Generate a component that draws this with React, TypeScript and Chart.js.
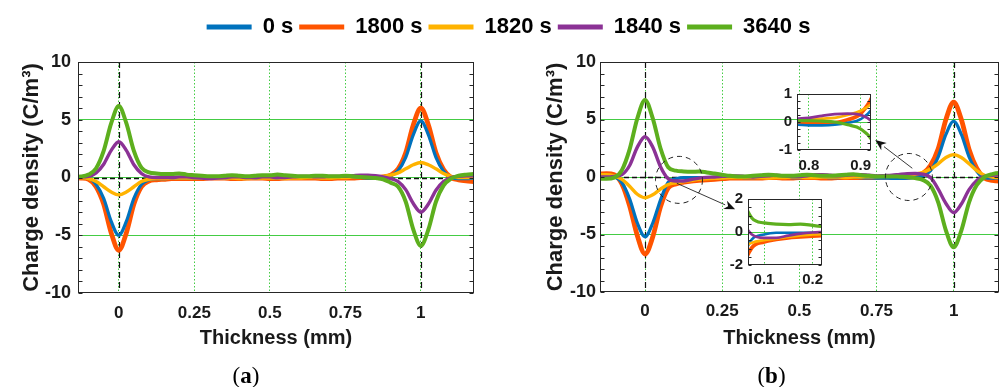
import React, { useEffect, useRef } from 'react';
import { Chart, registerables } from 'chart.js';

Chart.register(...registerables);

const FONT = "'Liberation Sans', Arial, Helvetica, sans-serif";
const SERIF = "'Liberation Serif', 'Times New Roman', serif";
const GRID_GREEN = '#44cc44';
const AXIS_COLOR = '#262626';
const TEXT_COLOR = '#1a1a1a';

// ---------- data ----------
const seriesLabels = ['0 s', '1800 s', '1820 s', '1840 s', '3640 s'];
const seriesColors = ['#0072BD', '#FF5400', '#FFB300', '#8B3295', '#5DAF1E'];
const seriesWidths = [3.2, 4.8, 3.4, 3.4, 4.0];
const seriesOrder = [3, 4, 2, 1, 0];

const thickness = [
  -0.15, -0.125, -0.1, -0.075, -0.05, -0.025, 0, 0.025, 0.05, 0.075, 0.1, 0.125, 0.15, 0.175,
  0.2, 0.225, 0.25, 0.275, 0.3, 0.325, 0.35, 0.375, 0.4, 0.425, 0.45, 0.475, 0.5, 0.525, 0.55,
  0.575, 0.6, 0.625, 0.65, 0.675, 0.7, 0.725, 0.75, 0.775, 0.8, 0.825, 0.85, 0.875, 0.9, 0.925,
  0.95, 0.975, 1, 1.025, 1.05, 1.075, 1.1, 1.125, 1.15, 1.175,
];

// panel (a)
const blueA = [
  0, 0, -0.05, -0.6, -1.8, -3.8, -5.0, -3.8, -1.8, -0.6, -0.2, -0.1, -0.1,
  -0.05, -0.05, -0.05, -0.05, -0.05, -0.05, -0.05,
  -0.05, 0, 0, -0.05, -0.05, 0, 0, -0.05, -0.05, 0,
  0, 0, 0.05, 0.05, 0, 0, 0.05, 0.05, 0, -0.05, -0.05,
  0, 0.15, 0.6, 1.75, 3.7, 4.9, 3.7, 1.75, 0.55, 0, -0.1, -0.1, -0.05,
];
const orangeA = [
  0, -0.05, -0.15, -0.8, -2.3, -4.8, -6.3, -4.8, -2.3, -0.8, -0.3, -0.2, -0.15,
  -0.1, -0.1, -0.1, -0.1, -0.1, -0.05, -0.05,
  -0.05, -0.1, -0.1, -0.05, -0.05, -0.05, -0.1, -0.1, -0.05, -0.05,
  -0.05, -0.05, -0.05, -0.1, -0.1, -0.05, -0.05, -0.05, 0, 0, 0,
  0.05, 0.2, 0.75, 2.15, 4.55, 6.0, 4.55, 2.15, 0.7, 0, -0.2, -0.3, -0.35,
];
const yellowA = [
  0, 0, -0.1, -0.35, -0.8, -1.25, -1.5, -1.25, -0.8, -0.35, -0.15, -0.1, -0.1,
  -0.05, -0.05, -0.05, -0.05, -0.05, -0.05, -0.05,
  -0.05, -0.05, -0.1, -0.1, -0.05, -0.05, -0.05, -0.05, -0.1, -0.05,
  -0.05, 0, 0, -0.05, -0.05, 0, 0, 0.05, 0.05, 0.05, 0.05,
  0.1, 0.2, 0.4, 0.75, 1.1, 1.3, 1.1, 0.75, 0.35, 0.1, 0, 0, 0,
];
const purpleA = [
  0.05, 0.05, 0.1, 0.4, 1.15, 2.35, 3.1, 2.35, 1.1, 0.35, 0.05, 0, 0,
  0, 0.05, 0.05, 0, -0.05, -0.1, -0.05,
  0, 0.05, 0.05, 0, 0, 0.05, 0.05, 0, 0, 0.05,
  0.1, 0.1, 0.05, 0.05, 0.1, 0.1, 0.1, 0.15, 0.2, 0.2, 0.15,
  0.05, -0.1, -0.35, -1.05, -2.25, -3.0, -2.3, -1.1, -0.35, 0, 0.1, 0.15, 0.15,
];
const greenA = [
  0.05, 0.08, 0.25, 0.8, 2.3, 4.7, 6.2, 4.7, 2.3, 0.85, 0.45, 0.35, 0.3,
  0.3, 0.35, 0.25, 0.2, 0.15, 0.1, 0.1,
  0.15, 0.2, 0.15, 0.1, 0.15, 0.2, 0.2, 0.25, 0.2, 0.15,
  0.1, 0.1, 0.15, 0.15, 0.1, 0.1, 0.15, 0.1, 0.05, 0, -0.05,
  -0.15, -0.45, -0.8, -2.1, -4.5, -5.9, -4.5, -2.1, -0.7, -0.1, 0.15, 0.25, 0.3,
];

// panel (b)
const blueB = [
  0.05, 0.05, 0, -0.5, -1.9, -4.0, -5.2, -4.0, -2.0, -0.45, -0.15, -0.05, -0.05,
  -0.05, -0.05, -0.05, -0.05, 0, 0, -0.05,
  -0.05, 0, 0, 0.05, 0, -0.05, -0.05, 0, 0, 0,
  -0.05, -0.05, 0, 0, -0.05, -0.08, -0.1, -0.1, -0.12, -0.12, -0.1,
  -0.03, 0.1, 0.55, 1.75, 3.7, 4.85, 3.7, 1.75, 0.5, -0.05, -0.1, -0.1, -0.1,
];
const orangeB = [
  0.25, 0.3, 0.2, -0.6, -2.5, -5.1, -6.7, -5.2, -2.6, -0.95, -0.6, -0.45, -0.35,
  -0.3, -0.25, -0.2, -0.15, -0.1, -0.1, -0.1,
  -0.1, -0.1, -0.05, -0.05, -0.1, -0.1, -0.05, -0.05, -0.05, -0.1,
  -0.1, -0.05, -0.05, -0.05, -0.05, -0.05, -0.05, -0.02, -0.05, -0.05, -0.03,
  0.08, 0.3, 1.0, 2.45, 5.0, 6.5, 5.0, 2.4, 0.75, -0.1, -0.3, -0.35, -0.35,
];
const yellowB = [
  0.2, 0.2, 0.1, -0.2, -0.8, -1.5, -1.8, -1.55, -1.05, -0.65, -0.5, -0.4, -0.3,
  -0.2, -0.15, -0.12, -0.1, -0.05, -0.05, -0.05,
  -0.05, -0.05, -0.1, -0.05, -0.05, 0, 0, -0.05, -0.05, 0,
  0, 0, -0.05, 0, 0, 0.02, 0.03, 0.05, 0.08, 0.12, 0.15,
  0.25, 0.4, 0.7, 1.15, 1.7, 1.95, 1.7, 1.15, 0.55, 0.15, 0, -0.05, -0.05,
];
const purpleB = [
  0, 0, 0.05, 0.2, 1.0, 2.6, 3.5, 2.6, 0.9, -0.15, -0.35, -0.35, -0.22,
  -0.1, -0.03, 0, 0.05, 0.1, 0.1, 0.05,
  0, 0.05, 0.1, 0.15, 0.1, 0.05, 0.05, 0.1, 0.2, 0.2,
  0.15, 0.1, 0.15, 0.2, 0.2, 0.15, 0.1, 0.12, 0.15, 0.22, 0.28,
  0.3, 0.25, -0.05, -1.05, -2.3, -3.1, -2.35, -1.1, -0.3, 0.05, 0.15, 0.2, 0.2,
];
const greenB = [
  -0.15, -0.15, -0.05, 0.6, 2.4, 5.1, 6.7, 5.1, 2.5, 0.85, 0.55, 0.48, 0.45,
  0.48, 0.4, 0.3, 0.2, 0.1, 0.05, 0.05,
  0.1, 0.15, 0.2, 0.15, 0.1, 0.1, 0.15, 0.2, 0.15, 0.1,
  0.1, 0.15, 0.2, 0.25, 0.15, 0.1, 0.05, 0.05, 0.05, 0.03, 0,
  -0.1, -0.25, -0.75, -2.2, -4.65, -6.1, -4.65, -2.2, -0.7, 0, 0.25, 0.35, 0.35,
];

const seriesA = [blueA, orangeA, yellowA, purpleA, greenA];
const seriesB = [blueB, orangeB, yellowB, purpleB, greenB];

// ticks
const xTicksMain = [0, 0.25, 0.5, 0.75, 1];
const xTickLabelsMain = ['0', '0.25', '0.5', '0.75', '1'];
const yTicksMain = [-10, -5, 0, 5, 10];
const yTickLabelsMain = ['-10', '-5', '0', '5', '10'];
const inset1XTicks = [0.8, 0.9];
const inset1XLabels = ['0.8', '0.9'];
const inset1YTicks = [-1, 0, 1];
const inset1YLabels = ['-1', '0', '1'];
const inset2XTicks = [0.1, 0.2];
const inset2XLabels = ['0.1', '0.2'];
const inset2YTicks = [-2, 0, 2];
const inset2YLabels = ['-2', '0', '2'];

// reference lines and zoom marks (data units)
const refLinesX = [0, 1];
const refLinesY = [0];
const zoomCircles = [[0.11, -0.25], [0.855, 0]];
const zoomArrows = [[0.103, -0.55, 0.292, -2.81], [0.866, 0.76, 0.746, 3.22]];

// ---------- helpers ----------
function makeDatasets(series: number[][], widthScale: number) {
  return seriesLabels.map((label, i) => ({
    label,
    data: thickness.map((x, j) => ({ x, y: series[i][j] })),
    borderColor: seriesColors[i],
    backgroundColor: seriesColors[i],
    borderWidth: seriesWidths[i] * widthScale,
    pointRadius: 0,
    cubicInterpolationMode: 'monotone',
    fill: false,
    order: seriesOrder[i],
    clip: 0,
    borderCapStyle: 'round',
    borderJoinStyle: 'round',
  }));
}

type DecorCfg = {
  minorStep: number;
  tickLen: number;
  whiteBg?: boolean;
  refX?: number[];
  refY?: number[];
  label?: string;
  labelDx?: number;
  labelY?: number;
  circles?: number[][];
  arrows?: number[][];
};

function decorPlugin(cfg: DecorCfg) {
  return {
    id: 'decor',
    beforeDraw(chart: any) {
      if (!cfg.whiteBg) return;
      const { ctx, chartArea: a } = chart;
      ctx.save();
      ctx.fillStyle = '#ffffff';
      ctx.fillRect(a.left, a.top, a.right - a.left, a.bottom - a.top);
      ctx.restore();
    },
    beforeDatasetsDraw(chart: any) {
      const { ctx, chartArea: a, scales } = chart;
      ctx.save();
      ctx.strokeStyle = '#111';
      (cfg.refX || []).forEach((v) => {
        const px = Math.round(scales.x.getPixelForValue(v)) + 0.5;
        ctx.lineWidth = 1.2;
        ctx.setLineDash([6, 4]);
        ctx.beginPath();
        ctx.moveTo(px, a.top);
        ctx.lineTo(px, a.bottom);
        ctx.stroke();
      });
      (cfg.refY || []).forEach((v) => {
        const py = Math.round(scales.y.getPixelForValue(v)) + 0.5;
        ctx.lineWidth = 1.4;
        ctx.setLineDash([5, 3]);
        ctx.beginPath();
        ctx.moveTo(a.left, py);
        ctx.lineTo(a.right, py);
        ctx.stroke();
      });
      ctx.restore();
    },
    afterDatasetsDraw(chart: any) {
      const { ctx, chartArea: a, scales } = chart;
      const ys = scales.y;
      ctx.save();
      ctx.strokeStyle = AXIS_COLOR;
      ctx.lineWidth = 1;
      ctx.setLineDash([]);
      const l = Math.round(a.left) + 0.5;
      const r = Math.round(a.right) - 0.5;
      const t = Math.round(a.top) + 0.5;
      const b = Math.round(a.bottom) - 0.5;
      ctx.strokeRect(l, t, r - l, b - t);
      const n = Math.round((ys.max - ys.min) / cfg.minorStep);
      ctx.beginPath();
      for (let k = 0; k <= n; k++) {
        const py = Math.round(ys.getPixelForValue(ys.min + k * cfg.minorStep)) + 0.5;
        ctx.moveTo(l, py);
        ctx.lineTo(l + cfg.tickLen, py);
        ctx.moveTo(r, py);
        ctx.lineTo(r - cfg.tickLen, py);
      }
      ctx.stroke();
      ctx.restore();
    },
    afterDraw(chart: any) {
      const { ctx, chartArea: a, scales } = chart;
      ctx.save();
      if (cfg.circles || cfg.arrows) {
        ctx.strokeStyle = '#222';
        ctx.fillStyle = '#111';
        ctx.lineWidth = 1;
        ctx.setLineDash([5, 4]);
        (cfg.circles || []).forEach(([cx, cy]) => {
          const px = scales.x.getPixelForValue(cx);
          const py = scales.y.getPixelForValue(cy);
          ctx.beginPath();
          ctx.arc(px, py, 23.5, 0, Math.PI * 2);
          ctx.stroke();
        });
        ctx.setLineDash([]);
        (cfg.arrows || []).forEach(([x1, y1, x2, y2]) => {
          const p1x = scales.x.getPixelForValue(x1);
          const p1y = scales.y.getPixelForValue(y1);
          const p2x = scales.x.getPixelForValue(x2);
          const p2y = scales.y.getPixelForValue(y2);
          const ang = Math.atan2(p2y - p1y, p2x - p1x);
          const len = 11;
          const hw = 4.5;
          const bx = p2x - len * Math.cos(ang);
          const by = p2y - len * Math.sin(ang);
          ctx.lineWidth = 0.9;
          ctx.beginPath();
          ctx.moveTo(p1x, p1y);
          ctx.lineTo(bx, by);
          ctx.stroke();
          ctx.beginPath();
          ctx.moveTo(p2x, p2y);
          ctx.lineTo(bx - hw * Math.sin(ang), by + hw * Math.cos(ang));
          ctx.lineTo(p2x - 0.7 * len * Math.cos(ang), p2y - 0.7 * len * Math.sin(ang));
          ctx.lineTo(bx + hw * Math.sin(ang), by - hw * Math.cos(ang));
          ctx.closePath();
          ctx.fill();
        });
      }
      if (cfg.label) {
        const parts = [
          { t: '(', w: 'normal' },
          { t: cfg.label, w: 'bold' },
          { t: ')', w: 'normal' },
        ];
        const size = 23;
        let total = 0;
        const widths = parts.map((p) => {
          ctx.font = `${p.w} ${size}px ${SERIF}`;
          const w = ctx.measureText(p.t).width;
          total += w;
          return w;
        });
        let x = (a.left + a.right) / 2 + (cfg.labelDx || 0) - total / 2;
        ctx.fillStyle = '#000';
        ctx.textBaseline = 'middle';
        ctx.textAlign = 'left';
        parts.forEach((p, i) => {
          ctx.font = `${p.w} ${size}px ${SERIF}`;
          ctx.fillText(p.t, x, cfg.labelY || 0);
          x += widths[i];
        });
      }
      ctx.restore();
    },
  };
}

type AxisCfg = {
  xMin: number;
  xMax: number;
  xTicks: number[];
  xLabels: string[];
  yMin: number;
  yMax: number;
  yTicks: number[];
  yLabels: string[];
  yAxisWidth: number;
  xAxisHeight: number;
  padRight: number;
  padTop: number;
  tickFont: number;
  xTickFont: number;
  yTickPad: number;
  xTickPad: number;
  yTitle?: string;
  yTitlePad?: number;
  xTitle?: string;
  xTitlePadBottom?: number;
  yGridAt: (v: number) => boolean;
};

function buildConfig(series: number[][], widthScale: number, ax: AxisCfg, decor: DecorCfg) {
  return {
    type: 'line',
    data: { datasets: makeDatasets(series, widthScale) },
    options: {
      responsive: false,
      animation: false,
      devicePixelRatio: 1,
      events: [],
      layout: { padding: { left: 0, right: ax.padRight, top: ax.padTop, bottom: 0 } },
      plugins: { legend: { display: false }, tooltip: { enabled: false } },
      scales: {
        x: {
          type: 'linear',
          min: ax.xMin,
          max: ax.xMax,
          afterBuildTicks: (s: any) => {
            s.ticks = ax.xTicks.map((v) => ({ value: v }));
          },
          afterFit: (s: any) => {
            s.height = ax.xAxisHeight;
          },
          ticks: {
            autoSkip: false,
            maxRotation: 0,
            padding: ax.xTickPad,
            color: TEXT_COLOR,
            font: { family: FONT, size: ax.xTickFont, weight: 'bold' },
            callback: (_v: any, i: number) => ax.xLabels[i],
          },
          grid: { drawTicks: false, color: GRID_GREEN, lineWidth: 1 },
          border: { display: false, dash: [1.5, 2] },
          title: {
            display: !!ax.xTitle,
            text: ax.xTitle || '',
            color: TEXT_COLOR,
            font: { family: FONT, size: 20, weight: 'bold' },
            padding: { top: 0, bottom: ax.xTitlePadBottom || 0 },
          },
        },
        y: {
          type: 'linear',
          min: ax.yMin,
          max: ax.yMax,
          afterBuildTicks: (s: any) => {
            s.ticks = ax.yTicks.map((v) => ({ value: v }));
          },
          afterFit: (s: any) => {
            s.width = ax.yAxisWidth;
          },
          ticks: {
            autoSkip: false,
            padding: ax.yTickPad,
            color: TEXT_COLOR,
            font: { family: FONT, size: ax.tickFont, weight: 'bold' },
            callback: (_v: any, i: number) => ax.yLabels[i],
          },
          grid: {
            drawTicks: false,
            lineWidth: 1,
            color: (c: any) => (c.tick && ax.yGridAt(c.tick.value) ? GRID_GREEN : 'rgba(0,0,0,0)'),
          },
          border: { display: false },
          title: {
            display: !!ax.yTitle,
            text: ax.yTitle || '',
            color: TEXT_COLOR,
            font: { family: FONT, size: 22, weight: 'bold' },
            padding: { top: ax.yTitlePad || 0, bottom: 0 },
          },
        },
      },
    },
    plugins: [decorPlugin(decor)],
  };
}

const mainGrid = (v: number) => Math.abs(v) !== 10;
const insetGrid = (v: number) => v === 0;

function configA() {
  return buildConfig(
    seriesA,
    1,
    {
      xMin: -0.135, xMax: 1.176, xTicks: xTicksMain, xLabels: xTickLabelsMain,
      yMin: -10, yMax: 10, yTicks: yTicksMain, yLabels: yTickLabelsMain,
      yAxisWidth: 78, xAxisHeight: 94, padRight: 26, padTop: 62,
      tickFont: 18, xTickFont: 17, yTickPad: 7, xTickPad: 10,
      yTitle: 'Charge density (C/m³)', yTitlePad: 19,
      xTitle: 'Thickness (mm)', xTitlePadBottom: 37, yGridAt: mainGrid,
    },
    { minorStep: 1, tickLen: 4, refX: refLinesX, refY: refLinesY, label: 'a', labelDx: -30, labelY: 377 },
  );
}

function configB() {
  return buildConfig(
    seriesB,
    1,
    {
      xMin: -0.146, xMax: 1.147, xTicks: xTicksMain, xLabels: xTickLabelsMain,
      yMin: -10, yMax: 10, yTicks: yTicksMain, yLabels: yTickLabelsMain,
      yAxisWidth: 100, xAxisHeight: 95, padRight: 4, padTop: 62,
      tickFont: 18, xTickFont: 17, yTickPad: 4, xTickPad: 9,
      yTitle: 'Charge density (C/m³)', yTitlePad: 43,
      xTitle: 'Thickness (mm)', xTitlePadBottom: 37, yGridAt: mainGrid,
    },
    {
      minorStep: 1, tickLen: 4, refX: refLinesX, refY: refLinesY, label: 'b', labelDx: -28, labelY: 377,
      circles: zoomCircles, arrows: zoomArrows,
    },
  );
}

function configInset1() {
  return buildConfig(
    seriesB,
    0.8,
    {
      xMin: 0.777, xMax: 0.92, xTicks: inset1XTicks, xLabels: inset1XLabels,
      yMin: -1, yMax: 1, yTicks: inset1YTicks, yLabels: inset1YLabels,
      yAxisWidth: 37, xAxisHeight: 30, padRight: 9, padTop: 6,
      tickFont: 15, xTickFont: 15, yTickPad: 5, xTickPad: 7, yGridAt: insetGrid,
    },
    { minorStep: 0.25, tickLen: 3, whiteBg: true },
  );
}

function configInset2() {
  return buildConfig(
    seriesB,
    0.8,
    {
      xMin: 0.067, xMax: 0.219, xTicks: inset2XTicks, xLabels: inset2XLabels,
      yMin: -2, yMax: 2, yTicks: inset2YTicks, yLabels: inset2YLabels,
      yAxisWidth: 33, xAxisHeight: 25, padRight: 8, padTop: 9,
      tickFont: 15, xTickFont: 15, yTickPad: 5, xTickPad: 6, yGridAt: insetGrid,
    },
    { minorStep: 0.5, tickLen: 3, whiteBg: true },
  );
}

function configLegend() {
  return {
    type: 'line',
    data: {
      datasets: seriesLabels.map((label, i) => ({
        label,
        data: [],
        borderColor: seriesColors[i],
        backgroundColor: seriesColors[i],
        borderWidth: 0,
      })),
    },
    options: {
      responsive: false,
      animation: false,
      devicePixelRatio: 1,
      events: [],
      layout: { padding: { top: 10, left: 14 } },
      scales: { x: { display: false }, y: { display: false } },
      plugins: {
        tooltip: { enabled: false },
        legend: {
          display: true,
          position: 'top',
          maxHeight: 80,
          labels: {
            boxWidth: 45,
            boxHeight: 5,
            padding: 6,
            color: '#000',
            font: { family: FONT, size: 22, weight: 'bold' },
          },
        },
      },
    },
  };
}

function ChartBox(props: { left: number; top: number; width: number; height: number; build: () => any }) {
  const ref = useRef<HTMLCanvasElement>(null);
  useEffect(() => {
    const chart = new Chart(ref.current as HTMLCanvasElement, props.build());
    return () => chart.destroy();
  }, []);
  return (
    <canvas
      ref={ref}
      width={props.width}
      height={props.height}
      style={{ position: 'absolute', left: props.left, top: props.top, width: props.width, height: props.height }}
    />
  );
}

export default function App() {
  return (
    <div
      style={{
        position: 'absolute',
        left: 0,
        top: 0,
        width: 1003,
        height: 387,
        background: '#ffffff',
        overflow: 'hidden',
      }}
    >
      <ChartBox left={0} top={0} width={500} height={387} build={configA} />
      <ChartBox left={500} top={0} width={503} height={387} build={configB} />
      <ChartBox left={0} top={0} width={1003} height={160} build={configLegend} />
      <ChartBox left={760} top={80} width={120} height={100} build={configInset1} />
      <ChartBox left={715} top={185} width={115} height={105} build={configInset2} />
    </div>
  );
}
